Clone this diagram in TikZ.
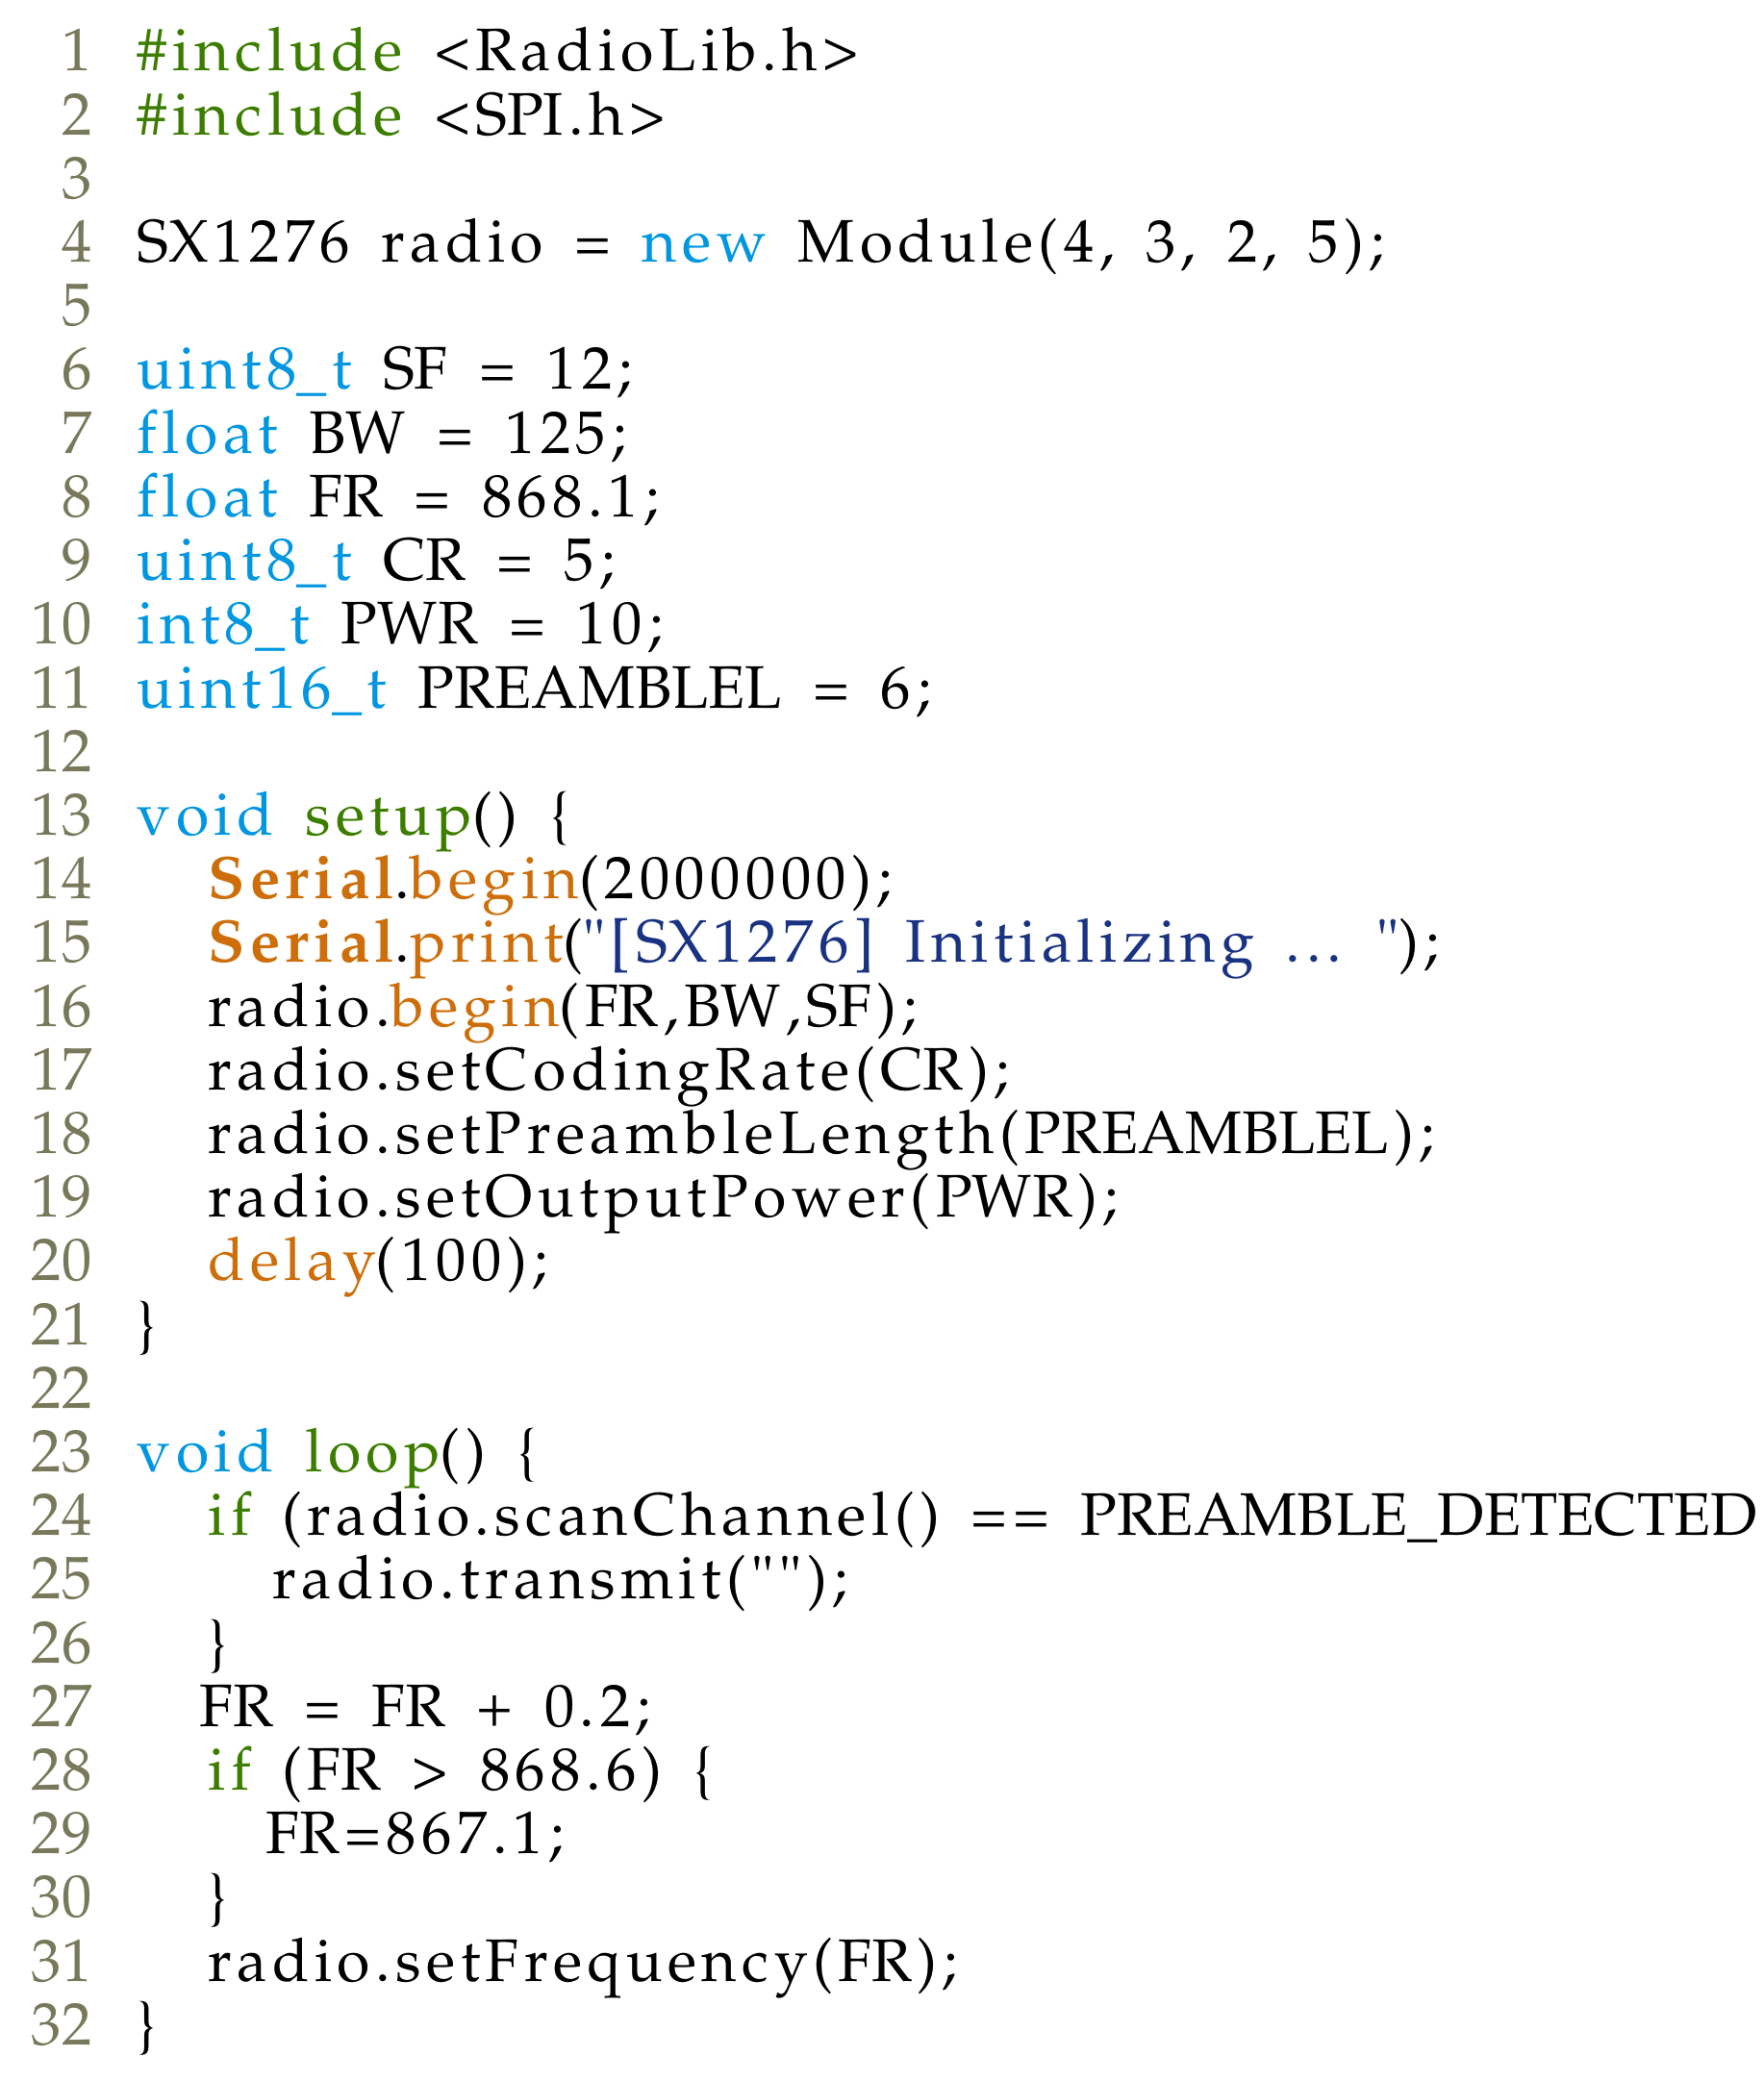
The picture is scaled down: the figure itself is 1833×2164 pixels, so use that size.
\documentclass[tikz,border=0pt]{standalone}
\usepackage[T1]{fontenc}
\usepackage{mathpazo}
\definecolor{kw}{RGB}{0,150,225}
\definecolor{fn}{RGB}{60,125,0}
\definecolor{og}{RGB}{205,110,10}
\definecolor{sg}{RGB}{25,50,130}
\definecolor{ln}{RGB}{120,120,90}
\newcommand\kwd[1]{\textcolor{kw}{#1}}
\newcommand\fnc[1]{\textcolor{fn}{#1}}
\newcommand\org[1]{\textcolor{og}{#1}}
\newcommand\strg[1]{\textcolor{sg}{#1}}
\newcommand\qq{\textquotedbl}
\count255=`A
\loop\ifnum\count255<`[ \XeTeXcharclass\count255=1 \advance\count255 by 1 \repeat
\XeTeXcharclass`\_=1
\newcommand\lsp{\XeTeXinterchartokenstate=1
  \XeTeXinterchartoks 0 0 = {\kern2.2pt}\XeTeXinterchartoks 0 1 = {\kern2.2pt}%
  \XeTeXinterchartoks 1 0 = {\kern2.2pt}\spaceskip=13pt plus 1pt}
\begin{document}
\begin{tikzpicture}[x=0.4pt,y=-0.4pt,
  code/.style={anchor=base west,inner sep=0pt,font=\fontsize{25}{30}\selectfont\lsp},
  num/.style={anchor=base east,inner sep=0pt,text=ln,font=\fontsize{25}{30}\selectfont}]
\useasboundingbox (0,0) rectangle (1833,2164);
\foreach \i in {1,...,32} \node[num] (n\i) at (96,{74+66.2*(\i-1)}) {\i};
\def\L#1#2#3{\node[code] (l#1) at (#2,{74+66.2*(#1-1)}) {#3};}
\L{1}{142}{\fnc{\#include} <RadioLib.h>}
\L{2}{142}{\fnc{\#include} <SPI.h>}
\L{4}{142}{SX1276 radio = \kwd{new} Module(4, 3, 2, 5);}
\L{6}{142}{\kwd{uint8\_t} SF = 12;}
\L{7}{142}{\kwd{float} BW = 125;}
\L{8}{142}{\kwd{float} FR = 868.1;}
\L{9}{142}{\kwd{uint8\_t} CR = 5;}
\L{10}{142}{\kwd{int8\_t} PWR = 10;}
\L{11}{142}{\kwd{uint16\_t} PREAMBLEL = 6;}
\L{13}{142}{\kwd{void} \fnc{setup}() \{}
\L{14}{216}{\org{\bfseries Serial}.\org{begin}(2000000);}
\L{15}{216}{\org{\bfseries Serial}.\org{print}(\strg{\qq[SX1276] Initializing ... \qq});}
\L{16}{216}{radio.\org{begin}(FR,BW,SF);}
\L{17}{216}{radio.setCodingRate(CR);}
\L{18}{216}{radio.setPreambleLength(PREAMBLEL);}
\L{19}{216}{radio.setOutputPower(PWR);}
\L{20}{216}{\org{delay}(100);}
\L{21}{142}{\}}
\L{23}{142}{\kwd{void} \fnc{loop}() \{}
\L{24}{216}{\fnc{if} (radio.scanChannel() == PREAMBLE\_DETECTED)\{}
\L{25}{283}{radio.transmit(\qq\qq);}
\L{26}{216}{\}}
\L{27}{207}{FR = FR + 0.2;}
\L{28}{216}{\fnc{if} (FR > 868.6) \{}
\L{29}{276}{FR=867.1;}
\L{30}{216}{\}}
\L{31}{216}{radio.setFrequency(FR);}
\L{32}{142}{\}}
\end{tikzpicture}
\end{document}
